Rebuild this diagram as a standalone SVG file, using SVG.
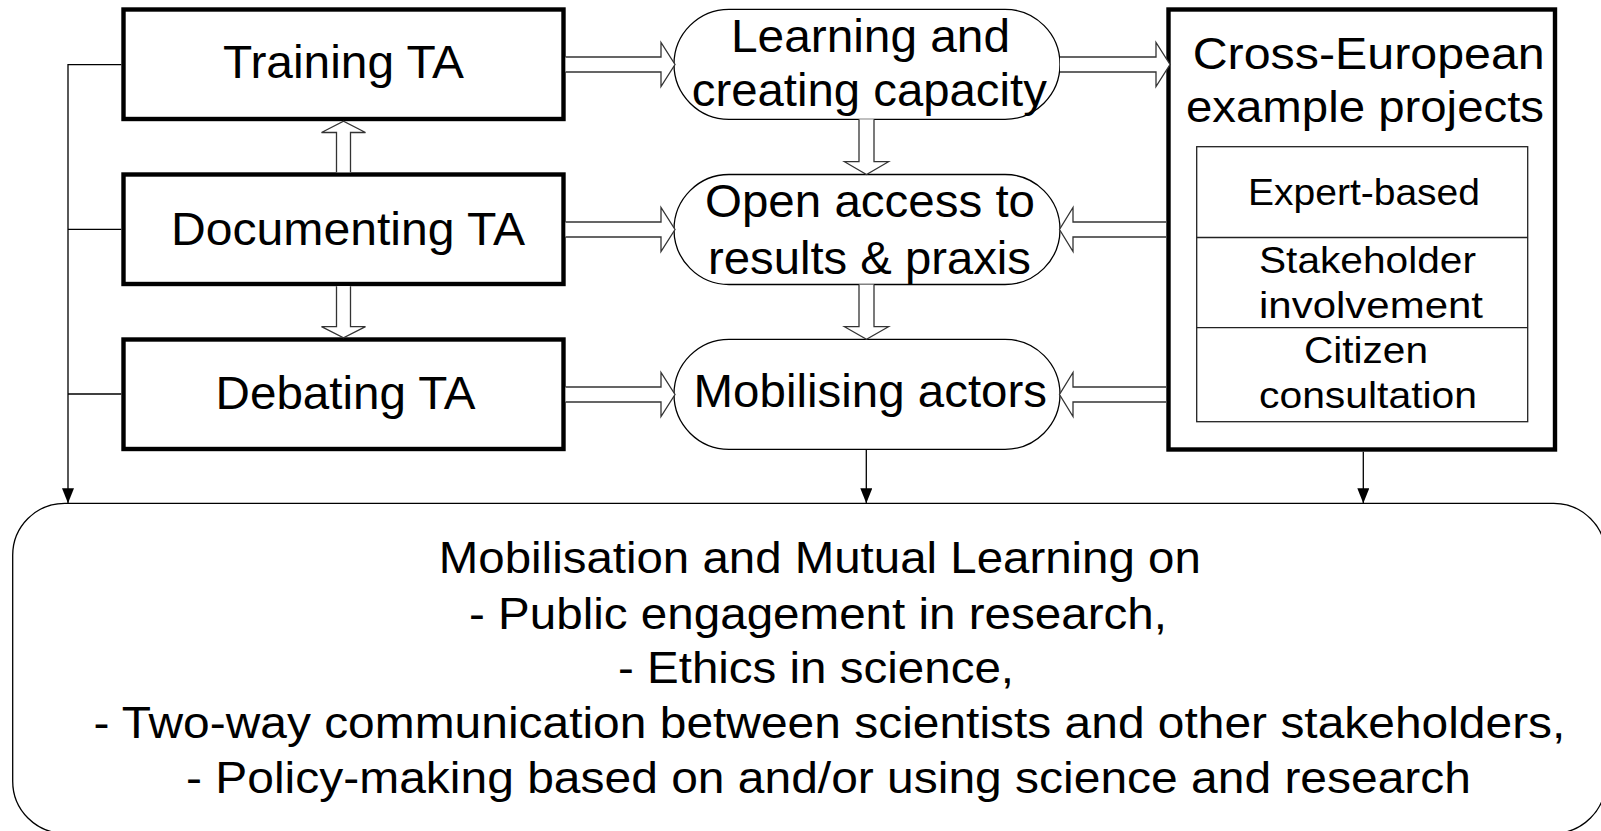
<svg xmlns="http://www.w3.org/2000/svg" width="1601" height="831" viewBox="0 0 1601 831">
<style>
.box{fill:#fff;stroke:#000;stroke-width:4.4}
.pill{fill:#fff;stroke:#000;stroke-width:1.3}
.tbl{fill:none;stroke:#222;stroke-width:1.3}
.blk{fill:#fff;stroke:#333;stroke-width:1.3;stroke-linejoin:miter}
.thin{fill:none;stroke:#000;stroke-width:1.3}
text{font-family:"Liberation Sans",Arial,sans-serif;fill:#000}
.t46{font-size:46px}
.t45{font-size:45px}
.t36{font-size:36px}
</style>
<defs>
<marker id="tri" viewBox="0 0 15 12" refX="15" refY="6" markerWidth="15" markerHeight="12" markerUnits="userSpaceOnUse" orient="auto">
<path d="M0,0 L15,6 L0,12 Z" fill="#000"/>
</marker>
</defs>
<rect width="1601" height="831" fill="#fff"/>

<g id="bottom">
<rect x="12.7" y="503.3" width="1593" height="330" rx="52" ry="52" class="pill"/>
<text class="t45" x="438.8" y="572.5" textLength="762" lengthAdjust="spacingAndGlyphs">Mobilisation and Mutual Learning on</text>
<text class="t45" x="469" y="628.5" textLength="698" lengthAdjust="spacingAndGlyphs">- Public engagement in research,</text>
<text class="t45" x="618" y="682.5" textLength="396" lengthAdjust="spacingAndGlyphs">- Ethics in science,</text>
<text class="t45" x="93.4" y="737.5" textLength="1472" lengthAdjust="spacingAndGlyphs">- Two-way communication between scientists and other stakeholders,</text>
<text class="t45" x="186" y="793" textLength="1285" lengthAdjust="spacingAndGlyphs">- Policy-making based on and/or using science and research</text>
</g>

<g id="training">
<rect x="123.5" y="9.5" width="440" height="109.5" class="box"/>
<text class="t46" x="223" y="78.3" textLength="241" lengthAdjust="spacingAndGlyphs">Training TA</text>
</g>
<g id="documenting">
<rect x="123.5" y="174.5" width="440" height="109.5" class="box"/>
<text class="t46" x="171" y="245" textLength="354" lengthAdjust="spacingAndGlyphs">Documenting TA</text>
</g>
<g id="debating">
<rect x="123.5" y="339.5" width="440" height="109.5" class="box"/>
<text class="t46" x="215.6" y="408.5" textLength="260" lengthAdjust="spacingAndGlyphs">Debating TA</text>
</g>

<g id="learning">
<rect x="674" y="9.3" width="386" height="110" rx="55" ry="55" class="pill"/>
<text class="t46" x="731" y="52" textLength="279" lengthAdjust="spacingAndGlyphs">Learning and</text>
<text class="t46" x="691.8" y="106" textLength="355" lengthAdjust="spacingAndGlyphs">creating capacity</text>
</g>
<g id="openaccess">
<rect x="674" y="174.5" width="386" height="110" rx="55" ry="55" class="pill"/>
<text class="t46" x="705" y="217" textLength="330" lengthAdjust="spacingAndGlyphs">Open access to</text>
<text class="t46" x="708" y="273.5" textLength="323" lengthAdjust="spacingAndGlyphs">results &amp; praxis</text>
</g>
<g id="mobilising">
<rect x="674" y="339.3" width="386" height="110" rx="55" ry="55" class="pill"/>
<text class="t46" x="693.6" y="406.7" textLength="353.4" lengthAdjust="spacingAndGlyphs">Mobilising actors</text>
</g>

<g id="crosseuropean">
<rect x="1168.5" y="9.5" width="386.5" height="440" class="box"/>
<text class="t45" x="1192.7" y="68.5" textLength="352" lengthAdjust="spacingAndGlyphs">Cross-European</text>
<text class="t45" x="1186" y="122" textLength="358" lengthAdjust="spacingAndGlyphs">example projects</text>
<rect x="1196.7" y="146.7" width="331" height="275" class="tbl"/>
<line x1="1196.7" y1="237.5" x2="1527.7" y2="237.5" class="tbl"/>
<line x1="1196.7" y1="327.7" x2="1527.7" y2="327.7" class="tbl"/>
<text class="t36" x="1248" y="205" textLength="232" lengthAdjust="spacingAndGlyphs">Expert-based</text>
<text class="t36" x="1259" y="273.3" textLength="217" lengthAdjust="spacingAndGlyphs">Stakeholder</text>
<text class="t36" x="1259" y="318.3" textLength="224" lengthAdjust="spacingAndGlyphs">involvement</text>
<text class="t36" x="1304" y="362.7" textLength="124" lengthAdjust="spacingAndGlyphs">Citizen</text>
<text class="t36" x="1259" y="408.3" textLength="218" lengthAdjust="spacingAndGlyphs">consultation</text>
</g>

<g id="connectors">
<path class="blk" d="M565.5,57 H661 V42.5 L675,64.5 L661,86.5 V72 H565.5"/>
<path class="blk" d="M565.5,222 H661 V207.5 L675,229.5 L661,251.5 V237 H565.5"/>
<path class="blk" d="M565.5,387 H661 V372.5 L675,394.5 L661,416.5 V402 H565.5"/>
<path class="blk" d="M1060,57 H1156 V42.5 L1170,64.5 L1156,86.5 V72 H1060"/>
<path class="blk" d="M1166,222 H1073 V207.5 L1059.5,229.5 L1073,251.5 V237 H1166"/>
<path class="blk" d="M1166,387 H1073 V372.5 L1059.5,394.5 L1073,416.5 V402 H1166"/>
<path class="blk" d="M336.5,172.3 V132.5 H321.5 L343.5,121.2 L365.5,132.5 H350.5 V172.3"/>
<path class="blk" d="M336.5,286.2 V326.7 H321.5 L343.5,337.8 L365.5,326.7 H350.5 V286.2"/>
<path class="blk" d="M859,119.3 V161.7 H844.5 L866.5,174.5 L888.5,161.7 H874 V119.3"/>
<path class="blk" d="M859,284.5 V326.7 H844.5 L866.5,339.3 L888.5,326.7 H874 V284.5"/>
<path class="thin" d="M121.3,64.7 H68 V503.3" marker-end="url(#tri)"/>
<line class="thin" x1="68" y1="229.3" x2="121.3" y2="229.3"/>
<line class="thin" x1="68" y1="394" x2="121.3" y2="394"/>
<line class="thin" x1="866.3" y1="449.3" x2="866.3" y2="503.3" marker-end="url(#tri)"/>
<line class="thin" x1="1363.3" y1="451.7" x2="1363.3" y2="503.3" marker-end="url(#tri)"/>
</g>
</svg>
